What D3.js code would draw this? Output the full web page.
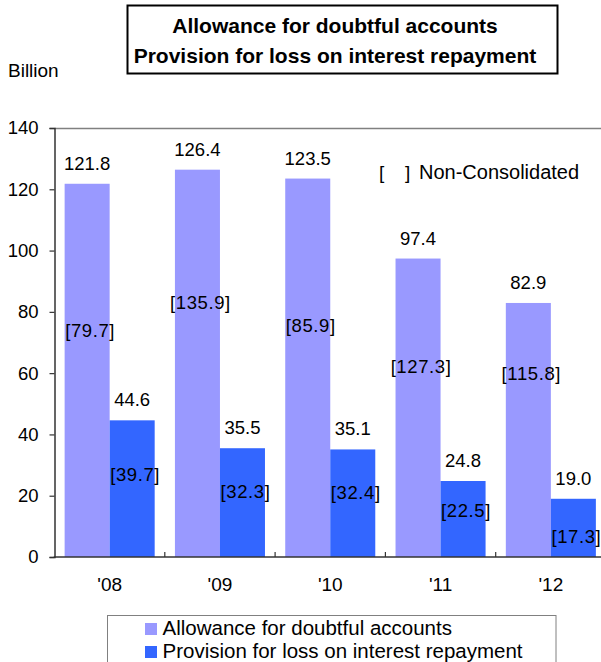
<!DOCTYPE html>
<html><head><meta charset="utf-8">
<script src="https://cdn.jsdelivr.net/npm/d3@7"></script>
<style>
body{margin:0;background:#fff}
svg{display:block}
text{font-family:"Liberation Sans",Arial,sans-serif;fill:#000}
</style>
</head><body><svg id="c" width="601" height="662"></svg>
<script>
// ---- data ----
const years = ["'08", "'09", "'10", "'11", "'12"];
const seriesNames = ["Allowance for doubtful accounts", "Provision for loss on interest repayment"];
const allowance = [121.8, 126.4, 123.5, 97.4, 82.9];
const provision = [44.6, 35.5, 35.1, 24.8, 19.0];
const allowanceNonCons = [79.7, 135.9, 85.9, 127.3, 115.8];
const provisionNonCons = [39.7, 32.3, 32.4, 22.5, 17.3];
const yTicks = [0, 20, 40, 60, 80, 100, 120, 140];
const titleLines = ["Allowance for doubtful accounts", "Provision for loss on interest repayment"];
const unitLabel = "Billion";
const noteLabel = "Non-Consolidated";
// heights (in value units) where the bracketed labels sit
const allowanceNonConsAt = [71.9, 80.9, 73.5, 60.0, 57.8];
const provisionNonConsAt = [24.8, 19.3, 18.9, 13.1, 4.6];

const colors = ["#9999FF", "#3366FF"];

const svg = d3.select("#c");
const W = 601, H = 662;
const plot = {left: 54.5, right: 606, top: 128, bottom: 557};
const FF = '"Liberation Sans",Arial,sans-serif';

const y = d3.scaleLinear().domain([0, 140]).range([plot.bottom, plot.top]);
const x0 = d3.scaleBand().domain(years).range([plot.left, plot.right]).paddingInner(0).paddingOuter(0);
const x1 = d3.scaleBand().domain([0, 1]).range([0, x0.bandwidth()]).paddingInner(0).paddingOuter(0.225);

const rows = years.map((yr, i) => ({
  yr,
  vals: [allowance[i], provision[i]],
  nc: [allowanceNonCons[i], provisionNonCons[i]],
  ncAt: [allowanceNonConsAt[i], provisionNonConsAt[i]]
}));

// title box
svg.append("rect").attr("x", 127.5).attr("y", 5.5).attr("width", 430).attr("height", 68)
  .attr("fill", "#fff").attr("stroke", "#000").attr("stroke-width", 2);
svg.selectAll("text.title").data(titleLines).join("text").attr("class", "title")
  .attr("x", 335).attr("y", (d, i) => 33 + i * 30)
  .attr("text-anchor", "middle").attr("font-weight", "bold").attr("font-size", 21)
  .text(d => d);

svg.append("text").attr("x", 8).attr("y", 77).attr("font-size", 19).text(unitLabel);

// plot top border
svg.append("line").attr("x1", plot.left).attr("x2", W).attr("y1", plot.top + 0.5).attr("y2", plot.top + 0.5)
  .attr("stroke", "#808080").attr("stroke-width", 1.5);

// bars
const g = svg.append("g");
const grp = g.selectAll("g.grp").data(rows).join("g").attr("class", "grp")
  .attr("transform", d => `translate(${x0(d.yr)},0)`);
grp.selectAll("rect").data(d => d.vals.map((v, k) => ({v, k}))).join("rect")
  .attr("x", d => x1(d.k)).attr("width", x1.bandwidth())
  .attr("y", d => y(d.v)).attr("height", d => y(0) - y(d.v))
  .attr("fill", d => colors[d.k]);

// value labels
grp.selectAll("text.val").data(d => d.vals.map((v, k) => ({v, k}))).join("text").attr("class", "val")
  .attr("x", d => x1(d.k) + x1.bandwidth() / 2).attr("y", d => y(d.v) - 14)
  .attr("text-anchor", "middle").attr("font-size", 18.5)
  .text(d => d.v.toFixed(1));

// non-consolidated labels
grp.selectAll("text.nc").data(d => d.nc.map((v, k) => ({v, k, at: d.ncAt[k]}))).join("text").attr("class", "nc")
  .attr("x", d => x1(d.k) + x1.bandwidth() / 2 + 3).attr("y", d => y(d.at))
  .attr("text-anchor", "middle").attr("font-size", 18.5).attr("letter-spacing", 0.6)
  .text(d => "[" + d.v.toFixed(1) + "]");

// y axis
const yAxis = d3.axisLeft(y).tickValues(yTicks).tickSize(5).tickPadding(11).tickFormat(d3.format("d"));
const ya = svg.append("g").attr("transform", `translate(${plot.left},0)`).call(yAxis);
ya.select(".domain").attr("stroke", "#333").attr("stroke-width", 1.5);
ya.selectAll(".tick line").attr("stroke", "#333").attr("stroke-width", 1.2);
ya.selectAll(".tick text").attr("font-size", 18.5).attr("font-family", FF).attr("fill", "#000");

// x axis
const xa = svg.append("g").attr("transform", `translate(0,${plot.bottom})`)
  .call(d3.axisBottom(x0).tickSize(0).tickPadding(21));
xa.select(".domain").remove();
xa.selectAll(".tick text").attr("font-size", 19).attr("font-family", FF).attr("fill", "#000");
svg.append("line").attr("x1", plot.left - 0.75).attr("x2", W).attr("y1", plot.bottom).attr("y2", plot.bottom)
  .attr("stroke", "#333").attr("stroke-width", 1.5);
// band separator ticks (inside)
svg.selectAll("line.sep").data(years.slice(1)).join("line").attr("class", "sep")
  .attr("x1", d => x0(d)).attr("x2", d => x0(d))
  .attr("y1", plot.bottom).attr("y2", plot.bottom - 5)
  .attr("stroke", "#333").attr("stroke-width", 1.2);

// note
svg.append("text").attr("x", 379).attr("y", 179).attr("font-size", 19).text("[");
svg.append("text").attr("x", 405).attr("y", 179).attr("font-size", 19).text("]");
svg.append("text").attr("x", 419).attr("y", 179).attr("font-size", 20).text(noteLabel);

// legend
const lg = svg.append("g");
lg.append("rect").attr("x", 107.5).attr("y", 615.5).attr("width", 448.5).attr("height", 60)
  .attr("fill", "#fff").attr("stroke", "#808080").attr("stroke-width", 1);
const li = lg.selectAll("g.li").data(seriesNames).join("g").attr("class", "li")
  .attr("transform", (d, i) => `translate(145,${623 + i * 23})`);
li.append("rect").attr("width", 12).attr("height", 12).attr("fill", (d, i) => colors[i]);
li.append("text").attr("x", 17.5).attr("y", 12).attr("font-size", 20.5).text(d => d);
</script>
</body></html>
